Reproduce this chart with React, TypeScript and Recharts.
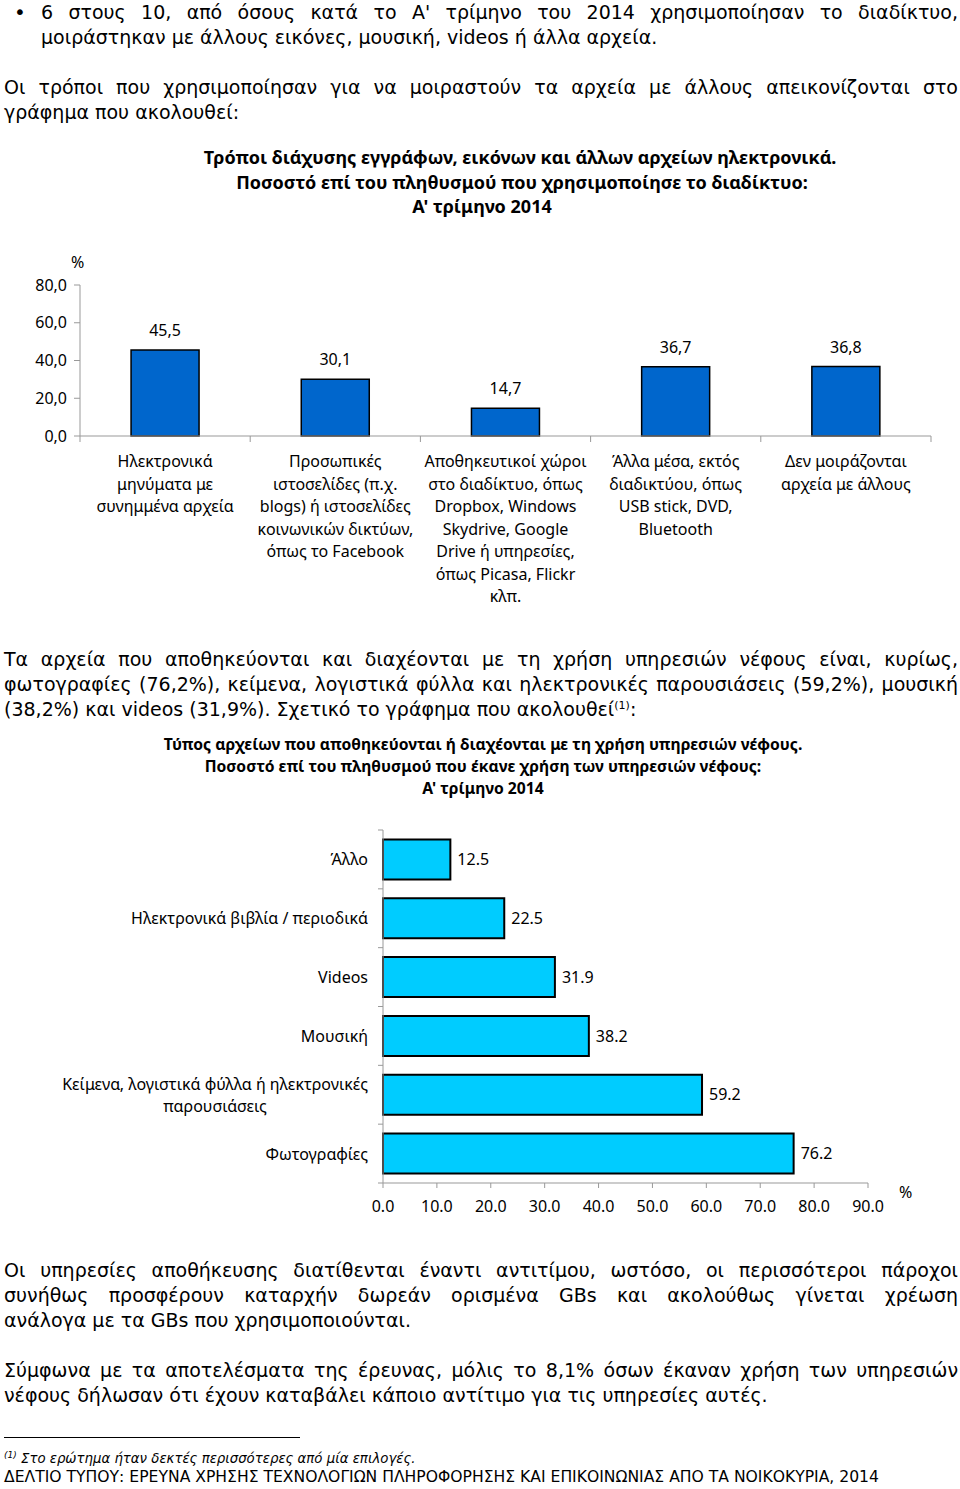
import { Bar, BarChart, LabelList, XAxis, YAxis } from 'recharts'

// chart 1: ways of sharing files
const shareCategories = [
  'Ηλεκτρονικά\nμηνύματα με\nσυνημμένα αρχεία',
  'Προσωπικές\nιστοσελίδες (π.χ.\nblogs) ή ιστοσελίδες\nκοινωνικών δικτύων,\nόπως το Facebook',
  'Αποθηκευτικοί χώροι\nστο διαδίκτυο, όπως\nDropbox, Windows\nSkydrive, Google\nDrive ή υπηρεσίες,\nόπως Picasa, Flickr\nκλπ.',
  'Άλλα μέσα, εκτός\nδιαδικτύου, όπως\nUSB stick, DVD,\nBluetooth',
  'Δεν μοιράζονται\nαρχεία με άλλους',
]
const shareValues = [45.5, 30.1, 14.7, 36.7, 36.8]
const shareTicks = [0, 20, 40, 60, 80]

// chart 2: file types in cloud services
const cloudCategories = [
  'Άλλο',
  'Ηλεκτρονικά βιβλία / περιοδικά',
  'Videos',
  'Μουσική',
  'Κείμενα, λογιστικά φύλλα ή ηλεκτρονικές\nπαρουσιάσεις',
  'Φωτογραφίες',
]
const cloudValues = [12.5, 22.5, 31.9, 38.2, 59.2, 76.2]
const cloudTicks = [0, 10, 20, 30, 40, 50, 60, 70, 80, 90]

const FONT = '"Noto Sans", "DejaVu Sans", sans-serif'
const BODY = '"DejaVu Sans", sans-serif'
const AXIS = '#999999'

let ctx: CanvasRenderingContext2D | null = null
function textWidth(s: string, size: number) {
  if (!ctx) ctx = document.createElement('canvas').getContext('2d')
  if (!ctx) return s.length * size * 0.5
  ctx.font = `${size}px ${FONT}`
  return ctx.measureText(s).width
}

function ShareTick(props: any) {
  const { x, y, payload, width, visibleTicksCount, index } = props
  const half = payload.offset ?? width / visibleTicksCount / 2
  const lines = String(payload.value).split('\n')
  const last = index === visibleTicksCount - 1
  return (
    <g>
      <line x1={x - half} x2={x - half} y1={y - 6} y2={y} stroke={AXIS} />
      {last && <line x1={x + half} x2={x + half} y1={y - 6} y2={y} stroke={AXIS} />}
      {lines.map((l, i) => (
        <text key={i} x={x} y={y + 19 + i * 22.5} textAnchor="middle" dominantBaseline="central"
          fontSize={16} fontFamily={FONT} fill="#000">
          {l}
        </text>
      ))}
    </g>
  )
}

function CloudTick(props: any) {
  const { x, y, payload, height, visibleTicksCount, index } = props
  const half = payload.offset ?? height / visibleTicksCount / 2
  const axisX = x + 15
  const lines = String(payload.value).split('\n')
  const last = index === visibleTicksCount - 1
  const w = Math.max(...lines.map((l) => textWidth(l, 16)))
  const multi = lines.length > 1
  return (
    <g>
      <line x1={axisX - 5} x2={axisX} y1={y - half} y2={y - half} stroke={AXIS} />
      {last && <line x1={axisX - 5} x2={axisX} y1={y + half} y2={y + half} stroke={AXIS} />}
      {lines.map((l, i) => (
        <text key={i} x={multi ? x - w / 2 : x} y={y + (i - (lines.length - 1) / 2) * 22}
          textAnchor={multi ? 'middle' : 'end'} dominantBaseline="central"
          fontSize={16} fontFamily={FONT} fill="#000">
          {l}
        </text>
      ))}
    </g>
  )
}

function Line({ y, x = 4, w = 954, just = true, size = 19, children }: any) {
  return (
    <div
      style={{
        position: 'absolute', left: x, top: y - 12.5, width: w, height: 25, lineHeight: '25px',
        fontSize: size, fontFamily: BODY, whiteSpace: 'nowrap',
        textAlign: just ? 'justify' : 'left', textAlignLast: just ? 'justify' : 'left',
      }}
    >
      {children}
    </div>
  )
}

function Title({ y, cx, size = 18, children }: any) {
  return (
    <div
      style={{
        position: 'absolute', left: cx - 400, width: 800, top: y - 11, height: 22, lineHeight: '22px',
        textAlign: 'center', fontWeight: 700, fontSize: size, whiteSpace: 'nowrap',
      }}
    >
      {children}
    </div>
  )
}

export default function App() {
  const shareData = shareCategories.map((name, i) => ({ name, value: shareValues[i] }))
  const cloudData = cloudCategories.map((name, i) => ({ name, value: cloudValues[i] }))

  return (
    <div style={{ position: 'relative', width: 960, height: 1489, fontFamily: FONT, color: '#000', overflow: 'hidden', background: '#fff' }}>
      <style>{'body{margin:0}'}</style>

      <div style={{ position: 'absolute', left: 14, top: 0, fontSize: 20, lineHeight: '25px', fontFamily: BODY }}>•</div>
      <Line y={12} x={41} w={917}>6 στους 10, από όσους κατά το Α' τρίμηνο του 2014 χρησιμοποίησαν το διαδίκτυο,</Line>
      <Line y={37} x={41} just={false}>μοιράστηκαν με άλλους εικόνες, μουσική, videos ή άλλα αρχεία.</Line>
      <Line y={87}>Οι τρόποι που χρησιμοποίησαν για να μοιραστούν τα αρχεία με άλλους απεικονίζονται στο</Line>
      <Line y={112} just={false}>γράφημα που ακολουθεί:</Line>

      <Title y={157} cx={520}>Τρόποι διάχυσης εγγράφων, εικόνων και άλλων αρχείων ηλεκτρονικά.</Title>
      <Title y={182} cx={522}>Ποσοστό επί του πληθυσμού που χρησιμοποίησε το διαδίκτυο:</Title>
      <Title y={206} cx={482}>Α' τρίμηνο 2014</Title>

      <div style={{ position: 'absolute', left: 71, top: 252, fontSize: 16, lineHeight: '20px' }}>%</div>
      <div style={{ position: 'absolute', left: 0, top: 250 }}>
        <BarChart width={960} height={370} data={shareData} margin={{ top: 35, right: 29, bottom: 0, left: 0 }} barCategoryGap="30%">
          <XAxis dataKey="name" interval={0} height={184} stroke={AXIS} tickLine={false} tickSize={6} tickMargin={0} tick={<ShareTick />} />
          <YAxis
            domain={[0, 80]} ticks={shareTicks} width={80} stroke={AXIS} tickSize={6} tickMargin={7}
            tickFormatter={(v: number) => v.toFixed(1).replace('.', ',')}
            tick={{ fill: '#000', fontSize: 16, fontFamily: FONT }}
          />
          <Bar dataKey="value" fill="#0066CC" stroke="#000" strokeWidth={1.5} isAnimationActive={false}>
            <LabelList dataKey="value" position="top" offset={14} fill="#000" fontSize={16} fontFamily={FONT}
              formatter={(v: any) => Number(v).toFixed(1).replace('.', ',')} />
          </Bar>
        </BarChart>
      </div>

      <Line y={659}>Τα αρχεία που αποθηκεύονται και διαχέονται με τη χρήση υπηρεσιών νέφους είναι, κυρίως,</Line>
      <Line y={684}>φωτογραφίες (76,2%), κείμενα, λογιστικά φύλλα και ηλεκτρονικές παρουσιάσεις (59,2%), μουσική</Line>
      <Line y={709} just={false}>(38,2%) και videos (31,9%). Σχετικό το γράφημα που ακολουθεί<sup style={{ fontSize: 11, lineHeight: 0 }}>(1)</sup>:</Line>

      <Title y={744} cx={483} size={15.7}>Τύπος αρχείων που αποθηκεύονται ή διαχέονται με τη χρήση υπηρεσιών νέφους.</Title>
      <Title y={766} cx={483} size={15.7}>Ποσοστό επί του πληθυσμού που έκανε χρήση των υπηρεσιών νέφους:</Title>
      <Title y={788} cx={483} size={15.7}>Α' τρίμηνο 2014</Title>

      <div style={{ position: 'absolute', left: 0, top: 820 }}>
        <BarChart layout="vertical" width={960} height={410} data={cloudData} margin={{ top: 10, right: 92, bottom: 0, left: 0 }} barCategoryGap="16%">
          <XAxis
            type="number" domain={[0, 90]} ticks={cloudTicks} height={47} stroke={AXIS} tickSize={5} tickMargin={13}
            tickFormatter={(v: number) => v.toFixed(1)}
            tick={{ fill: '#000', fontSize: 16, fontFamily: FONT }}
          />
          <YAxis type="category" dataKey="name" width={383} interval={0} stroke={AXIS} tickLine={false} tickSize={5} tickMargin={10} tick={<CloudTick />} />
          <Bar dataKey="value" fill="#00CCFF" stroke="#000" strokeWidth={2} isAnimationActive={false}>
            <LabelList dataKey="value" position="right" offset={7} fill="#000" fontSize={16} fontFamily={FONT}
              formatter={(v: any) => Number(v).toFixed(1)} />
          </Bar>
        </BarChart>
      </div>
      <div style={{ position: 'absolute', left: 899, top: 1182, fontSize: 16, lineHeight: '20px' }}>%</div>

      <Line y={1270}>Οι υπηρεσίες αποθήκευσης διατίθενται έναντι αντιτίμου, ωστόσο, οι περισσότεροι πάροχοι</Line>
      <Line y={1295}>συνήθως προσφέρουν καταρχήν δωρεάν ορισμένα GBs και ακολούθως γίνεται  χρέωση</Line>
      <Line y={1320} just={false}>ανάλογα με τα GBs που χρησιμοποιούνται.</Line>
      <Line y={1370}>Σύμφωνα με τα αποτελέσματα της έρευνας, μόλις το 8,1% όσων έκαναν χρήση των υπηρεσιών</Line>
      <Line y={1395} just={false}>νέφους δήλωσαν ότι έχουν καταβάλει κάποιο αντίτιμο για τις υπηρεσίες αυτές.</Line>

      <div style={{ position: 'absolute', left: 4, top: 1437, width: 296, height: 1, background: '#000' }} />
      <div style={{ position: 'absolute', left: 4, top: 1450, fontSize: 13.3, lineHeight: '18px', fontFamily: BODY, fontStyle: 'italic', whiteSpace: 'nowrap' }}>
        <sup style={{ fontSize: 9, lineHeight: 0 }}>(1)</sup> Στο ερώτημα ήταν δεκτές περισσότερες από μία επιλογές.
      </div>
      <div style={{ position: 'absolute', left: 4, top: 1468, fontSize: 15.6, lineHeight: '18px', fontFamily: BODY, whiteSpace: 'nowrap' }}>
        ΔΕΛΤΙΟ ΤΥΠΟΥ:  ΕΡΕΥΝΑ ΧΡΗΣΗΣ ΤΕΧΝΟΛΟΓΙΩΝ ΠΛΗΡΟΦΟΡΗΣΗΣ ΚΑΙ ΕΠΙΚΟΙΝΩΝΙΑΣ ΑΠΟ ΤΑ ΝΟΙΚΟΚΥΡΙΑ, 2014
      </div>
    </div>
  )
}
